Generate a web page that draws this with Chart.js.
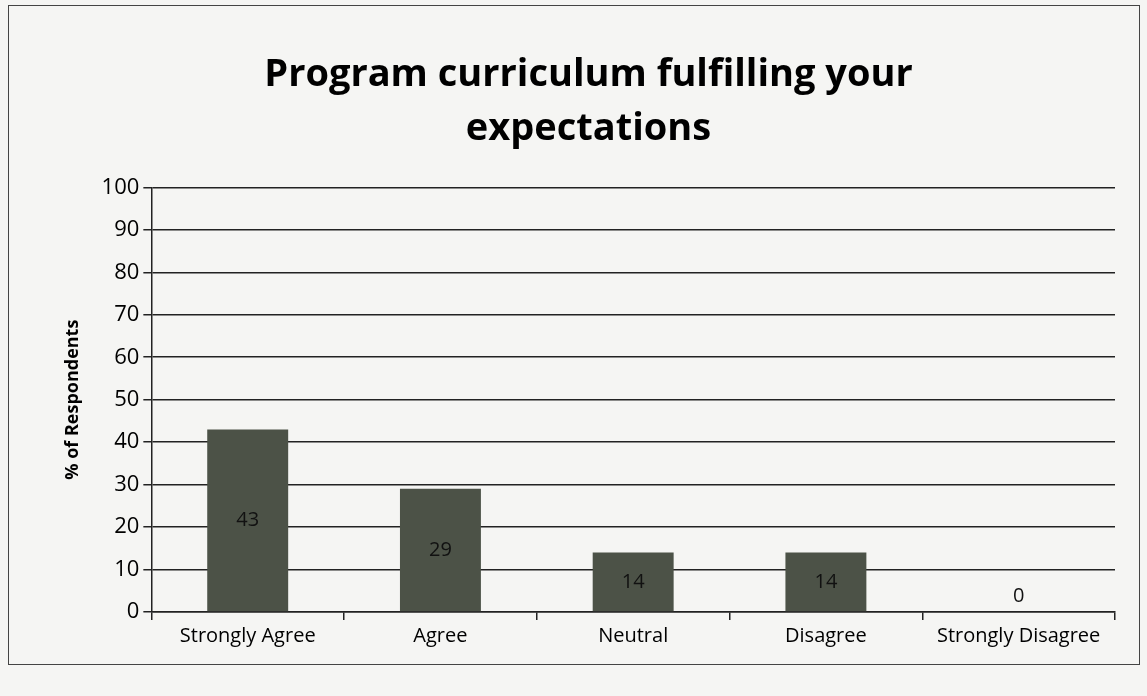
<!DOCTYPE html>
<html>
<head>
<meta charset="utf-8">
<script src="https://cdn.jsdelivr.net/npm/chart.js@4/dist/chart.umd.min.js"></script>
<style>
  html, body { margin: 0; padding: 0; background: #f5f5f3; }
  #wrap { position: relative; width: 1147px; height: 696px; }
  #frame { position: absolute; left: 8px; top: 5px; width: 1130px; height: 658px; border: 1.5px solid #444; pointer-events: none; }
  canvas { position: absolute; left: 0; top: 0; }
</style>
</head>
<body>
<div id="wrap">
  <canvas id="c" width="1147" height="696"></canvas>
  <div id="frame"></div>
</div>
<script>
const categories = ['Strongly Agree', 'Agree', 'Neutral', 'Disagree', 'Strongly Disagree'];
const respondents = [43, 29, 14, 14, 0];
const yTicks = [0, 10, 20, 30, 40, 50, 60, 70, 80, 90, 100];
const titleLines = ['Program curriculum fulfilling your', 'expectations'];
const yTitle = '% of Respondents';

const FONT = "'Open Sans', 'Noto Sans', sans-serif";

const valueLabels = {
  id: 'valueLabels',
  afterDatasetsDraw(chart) {
    const ctx = chart.ctx;
    const meta = chart.getDatasetMeta(0);
    ctx.save();
    ctx.font = "20px " + FONT;
    ctx.fillStyle = '#111';
    ctx.textAlign = 'center';
    ctx.textBaseline = 'middle';
    meta.data.forEach((bar, i) => {
      const v = chart.data.datasets[0].data[i];
      const y = v === 0 ? bar.base - 16 : (bar.y + bar.base) / 2;
      ctx.fillText(String(v), bar.x, y);
    });
    ctx.restore();
  }
};

new Chart(document.getElementById('c'), {
  type: 'bar',
  data: {
    labels: categories,
    datasets: [{
      data: respondents,
      backgroundColor: '#4c5247',
      borderWidth: 0,
      barPercentage: 0.42,
      categoryPercentage: 1.0
    }]
  },
  options: {
    responsive: false,
    animation: false,
    devicePixelRatio: 1,
    layout: { padding: { left: 62, right: 32, top: 49, bottom: 44 } },
    plugins: {
      legend: { display: false },
      tooltip: { enabled: false },
      title: {
        display: true,
        text: titleLines,
        color: '#000',
        font: { family: FONT, size: 38, weight: 'bold', lineHeight: 1.4 },
        padding: { top: 0, bottom: 32 }
      }
    },
    scales: {
      x: {
        grid: {
          display: true,
          drawOnChartArea: false,
          drawTicks: true,
          tickLength: 8,
          color: '#222',
          lineWidth: 1.5,
          offset: true
        },
        border: { display: true, color: '#222', width: 1.5 },
        ticks: {
          color: '#000',
          font: { family: FONT, size: 20 },
          padding: 4,
          maxRotation: 0,
          autoSkip: false
        }
      },
      y: {
        min: 0,
        max: 100,
        afterBuildTicks(scale) { scale.ticks = yTicks.map(v => ({ value: v })); },
        grid: {
          color: '#222',
          lineWidth: 1.5,
          drawTicks: true,
          tickLength: 8
        },
        border: { display: true, color: '#222', width: 1.5 },
        ticks: {
          color: '#000',
          font: { family: FONT, size: 22 },
          padding: 4
        },
        title: {
          display: true,
          text: yTitle,
          color: '#000',
          font: { family: FONT, size: 18, weight: 'bold' },
          padding: { top: 0, bottom: 14 }
        }
      }
    }
  },
  plugins: [valueLabels]
});
</script>
</body>
</html>
